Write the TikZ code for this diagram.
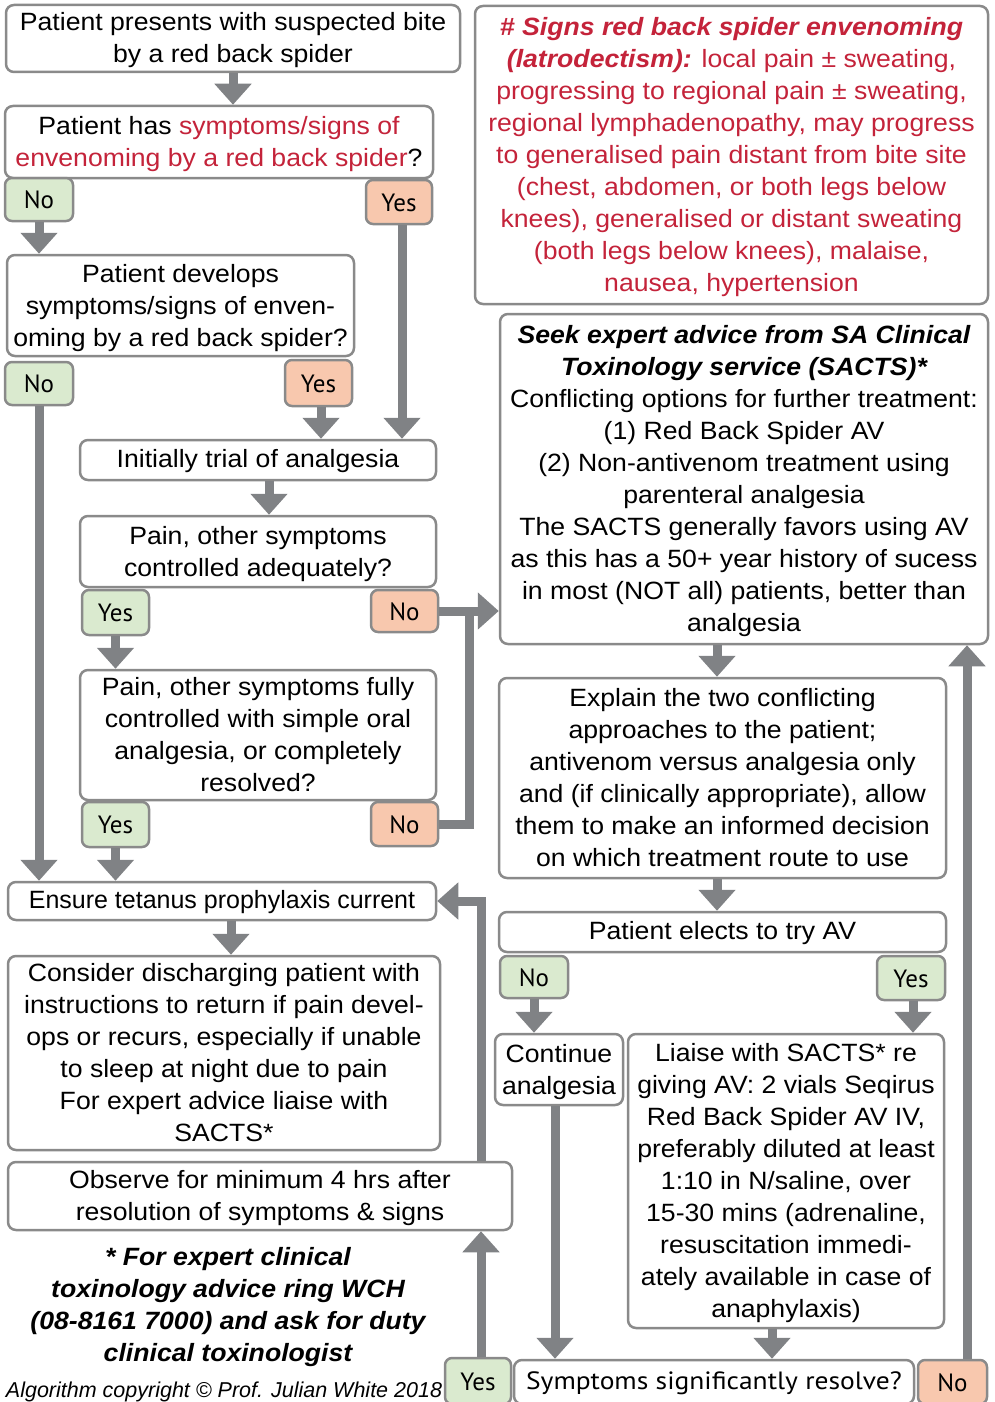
\documentclass[tikz,border=0pt]{standalone}
\usepackage{fontspec}
\setmainfont[FakeStretch=1.065]{Liberation Sans}
\newfontfamily\plainfont{Liberation Sans}
\newfontfamily\tagfont{PT Sans}
\newfontfamily\sympfont[FakeStretch=1.1]{PT Sans}
\usetikzlibrary{arrows.meta,calc}
\definecolor{boxgray}{HTML}{8A8A8A}
\definecolor{argray}{HTML}{808285}
\definecolor{taggreen}{HTML}{DAEACF}
\definecolor{tagsalmon}{HTML}{F8C8AE}
\definecolor{sred}{HTML}{C4233A}
\newcommand\T{\rule{0pt}{23pt}}
\newcommand\B{\rule[-6pt]{0pt}{6pt}}
\newcommand\onestrut{\rule[-7.5pt]{0pt}{30pt}}
\newcommand\tagstrut{\rule[-6pt]{0pt}{30pt}}
\tikzset{
  box/.style={draw=boxgray, line width=2.5pt, rounded corners=8pt, fill=white,
    align=center, inner xsep=2pt, inner ysep=0pt, font=\fontsize{25}{32}\selectfont},
  sbox/.style={draw=boxgray, line width=2.5pt, rounded corners=8pt, fill=white,
    inner xsep=2pt, inner ysep=0pt, font=\fontsize{25}{32}\selectfont,
    execute at begin node=\onestrut},
  tagyes/.style={draw=boxgray, line width=2.5pt, rounded corners=7pt, fill=taggreen,
    inner sep=0pt, font=\tagfont\fontsize{25}{30}\selectfont,
    execute at begin node=\tagstrut},
  tagno/.style={tagyes, fill=tagsalmon},
  arr/.style={draw=argray, line width=9pt, -{Triangle[width=36pt,length=21pt]}},
  ln/.style={draw=argray, line width=9pt}
}
\begin{document}
\begin{tikzpicture}[x=1pt,y=-1pt]
\useasboundingbox (0,0) rectangle (994,1402);
\clip (0,0) rectangle (994,1402);
% left column
\node[box, minimum width=454pt, minimum height=67pt] (b1) at (233,38.5)
  {\T Patient presents with suspected bite\\by a red back spider\B};
\node[box, minimum width=428pt, minimum height=72pt] (b2) at (219,142)
  {\T Patient has \textcolor{sred}{symptoms/signs of}\\\textcolor{sred}{envenoming by a red back spider}?\B};
\node[box, minimum width=347pt, minimum height=101pt] (b3) at (180.5,305.5)
  {\T Patient develops\\symptoms/signs of enven-\\oming by a red back spider?\B};
\node[sbox, minimum width=356pt, minimum height=40pt] (b4) at (258,460)
  {Initially trial of analgesia};
\node[box, minimum width=356pt, minimum height=71pt] (b5) at (258,551.5)
  {\T Pain, other symptoms\\controlled adequately?\B};
\node[box, minimum width=356pt, minimum height=130pt] (b6) at (258,735)
  {\T Pain, other symptoms fully\\controlled with simple oral\\analgesia, or completely\\resolved?\B};
\node[sbox, minimum width=428pt, minimum height=38pt, font=\plainfont\fontsize{25}{32}\selectfont] (b7) at (222,901)
  {Ensure tetanus prophylaxis current};
\node[box, minimum width=432pt, minimum height=194pt] (b8) at (224,1053)
  {\T Consider discharging patient with\\instructions to return if pain devel-\\ops or recurs, especially if unable\\to sleep at night due to pain\\For expert advice liaise with\\SACTS*\B};
\node[box, minimum width=504pt, minimum height=68pt] (obs) at (260,1196)
  {\T Observe for minimum 4 hrs after\\resolution of symptoms \& signs\B};
\node[align=center, inner sep=0pt, font=\fontsize{25}{32}\selectfont\bfseries\itshape] (foot) at (228,1305)
  {\T * For expert clinical\\toxinology advice ring WCH\\(08-8161 7000) and ask for duty\\clinical toxinologist\B};
\node[inner sep=0pt, font=\plainfont\fontsize{21.5}{26}\selectfont\itshape] (copy) at (224,1392)
  {Algorithm copyright \textcopyright{} Prof. Julian White 2018};
% right column
\node[box, minimum width=513pt, minimum height=298pt, text=sred] (signs) at (731.5,155)
  {\T{\bfseries\itshape \# Signs red back spider envenoming}\\
   {\bfseries\itshape (latrodectism):} local pain ± sweating,\\
   progressing to regional pain ± sweating,\\
   regional lymphadenopathy, may progress\\
   to generalised pain distant from bite site\\
   (chest, abdomen, or both legs below\\
   knees), generalised or distant sweating\\
   (both legs below knees), malaise,\\
   nausea, hypertension\B};
\node[box, minimum width=488pt, minimum height=330pt] (sacts) at (744,479)
  {\T{\bfseries\itshape Seek expert advice from SA Clinical}\\
   {\bfseries\itshape Toxinology service (SACTS)*}\\
   Conflicting options for further treatment:\\
   (1) Red Back Spider AV\\
   (2) Non-antivenom treatment using\\
   parenteral analgesia\\
   The SACTS generally favors using AV\\
   as this has a 50+ year history of sucess\\
   in most (NOT all) patients, better than\\
   analgesia\B};
\node[box, minimum width=447pt, minimum height=200pt] (expl) at (722.5,778)
  {\T Explain the two conflicting\\approaches to the patient;\\antivenom versus analgesia only\\and (if clinically appropriate), allow\\them to make an informed decision\\on which treatment route to use\B};
\node[sbox, minimum width=447pt, minimum height=40pt] (elect) at (722.5,932)
  {Patient elects to try AV};
\node[box, minimum width=128pt, minimum height=71pt] (cont) at (559,1069.5)
  {\T Continue\\analgesia\B};
\node[box, minimum width=316pt, minimum height=294pt] (liaise) at (786,1181)
  {\T Liaise with SACTS* re\\giving AV: 2 vials Seqirus\\Red Back Spider AV IV,\\preferably diluted at least\\1:10 in N/saline, over\\15-30 mins (adrenaline,\\resuscitation immedi-\\ately available in case of\\anaphylaxis)\B};
\node[sbox, minimum width=400pt, minimum height=44pt, font=\sympfont\fontsize{25}{32}\selectfont] (symp) at (714,1382)
  {Symptoms significantly resolve?};
% tags
\node[tagyes, minimum width=68pt, minimum height=43pt] (no1) at (39,199.5) {No};
\node[tagno, minimum width=66pt, minimum height=44pt] (yes1) at (399,202) {Yes};
\node[tagyes, minimum width=68pt, minimum height=43pt] (no2) at (39,383.5) {No};
\node[tagno, minimum width=67pt, minimum height=46pt] (yes2) at (318.5,383) {Yes};
\node[tagyes, minimum width=67pt, minimum height=45pt] (yes3) at (115.5,612.5) {Yes};
\node[tagno, minimum width=67pt, minimum height=42pt] (no3) at (404.5,611) {No};
\node[tagyes, minimum width=67pt, minimum height=45pt] (yes4) at (115.5,824.5) {Yes};
\node[tagno, minimum width=67pt, minimum height=44pt] (no4) at (404.5,824) {No};
\node[tagyes, minimum width=68pt, minimum height=42pt] (no5) at (534,977) {No};
\node[tagyes, minimum width=68pt, minimum height=44pt] (yes5) at (911,978) {Yes};
\node[tagyes, minimum width=66pt, minimum height=46pt] (yes6) at (478,1381) {Yes};
\node[tagno, minimum width=69pt, minimum height=44pt] (no6) at (952.5,1382) {No};
% helper coordinates
\coordinate (j) at (469,611);
\coordinate (ya) at ([xshift=3pt]yes6.north);
\coordinate (nb) at ([xshift=14.5pt]no6.north);
% connectors
\draw[arr] (b1.south) -- (b1.south |- b2.north);
\draw[arr] (no1.south) -- (no1.south |- b3.north);
\draw[arr] ([xshift=3pt]yes1.south) -- ([xshift=3pt]yes1.south |- b4.north);
\draw[arr] ([xshift=2.5pt]yes2.south) -- ([xshift=2.5pt]yes2.south |- b4.north);
\draw[arr] (no2.south) -- (no2.south |- b7.north);
\draw[arr] ([xshift=11pt]b4.south) -- ([xshift=11pt]b4.south |- b5.north);
\draw[arr] (yes3.south) -- (yes3.south |- b6.north);
\draw[arr] (no3.east) -- (no3.east -| sacts.west);
\draw[ln] (no4.east) -| (j);
\draw[arr] (yes4.south) -- (yes4.south |- b7.north);
\draw[arr] ([xshift=9pt]b7.south) -- ([xshift=9pt]b7.south |- b8.north);
\draw[arr] (ya) -- (ya |- obs.south);
\draw[arr] (ya |- obs.north) |- (b7.east);
\draw[arr] ([xshift=-27pt]sacts.south) -- ([xshift=-27pt]sacts.south |- expl.north);
\draw[arr] ([xshift=-5.5pt]expl.south) -- ([xshift=-5.5pt]expl.south |- elect.north);
\draw[arr] (no5.south) -- (no5.south |- cont.north);
\draw[arr] ([xshift=2pt]yes5.south) -- ([xshift=2pt]yes5.south |- liaise.north);
\draw[arr] ([xshift=-4pt]cont.south) -- ([xshift=-4pt]cont.south |- symp.north);
\draw[arr] ([xshift=-14pt]liaise.south) -- ([xshift=-14pt]liaise.south |- symp.north);
\draw[arr] (nb) -- (nb |- sacts.south);
\end{tikzpicture}
\end{document}
